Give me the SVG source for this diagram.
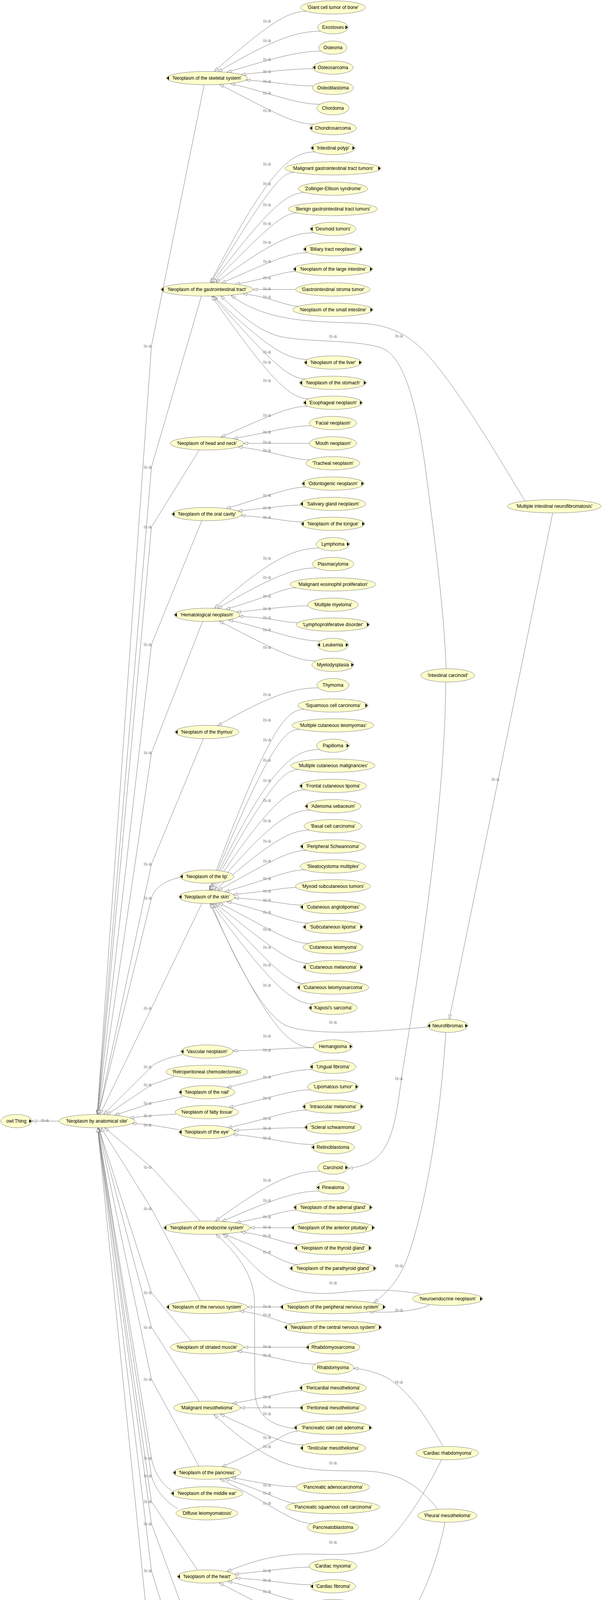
<svg xmlns="http://www.w3.org/2000/svg" width="1550" height="4708" viewBox="0 0 1550 4708">
<style>
.n ellipse{fill:#ffffcc;stroke:#808080;stroke-width:1}
.n text{font-family:"Liberation Sans",Arial,sans-serif;font-size:12px;fill:#000;text-anchor:middle}
.n path{fill:#000;stroke:none}
#edges path{fill:none;stroke:#808080;stroke-width:1;stroke-linejoin:round;marker-end:url(#arr)}
#labels text{font-family:"Liberation Sans",Arial,sans-serif;font-size:12px;fill:#808080;text-anchor:middle}
</style>
<defs>
<marker id="arr" viewBox="0 0 12 8" refX="11.5" refY="4" markerWidth="12" markerHeight="8" markerUnits="userSpaceOnUse" orient="auto"><path d="M0.5,0.5 L11.5,4 L0.5,7.5 Z" fill="#fff" stroke="#808080" stroke-width="1"/></marker>
</defs>
<rect width="1550" height="4708" fill="#fff"/>
<g id="edges">
<path d="M785 29C740 29 694 54 549 183"/>
<path d="M821 80C757 80 694 104 558 184"/>
<path d="M822 131C758 131 694 152 581 185"/>
<path d="M802 176C748 176 694 183 618 191"/>
<path d="M802 220C748 220 694 208 630 205"/>
<path d="M820 267C757 267 694 238 590 214"/>
<path d="M805 318C750 318 694 283 562 216"/>
<path d="M807 389C751 389 694 420 539 724"/>
<path d="M755 441C724 441 694 470 540 724"/>
<path d="M782 493C738 493 694 524 543 724"/>
<path d="M762 545C728 545 694 572 546 724"/>
<path d="M804 596C749 596 694 620 553 724"/>
<path d="M788 647C741 647 694 669 567 725"/>
<path d="M758 695C726 695 694 711 603 728"/>
<path d="M758 741L648 741"/>
<path d="M767 784C731 784 694 760 622 752"/>
<path d="M787 920C741 920 694 901 547 758"/>
<path d="M784 970C739 970 694 927 545 758"/>
<path d="M792 1021C743 1021 694 974 542 758"/>
<path d="M789 1040C741 1040 694 1063 566 1119"/>
<path d="M797 1090C745 1090 694 1106 597 1123"/>
<path d="M792 1135L624 1135"/>
<path d="M795 1177C745 1177 694 1153 610 1144"/>
<path d="M784 1247C739 1247 694 1268 579 1302"/>
<path d="M770 1293C732 1293 694 1300 610 1308"/>
<path d="M774 1336C734 1336 694 1324 617 1320"/>
<path d="M819 1403C756 1403 694 1429 549 1557"/>
<path d="M809 1454C752 1454 694 1478 557 1558"/>
<path d="M758 1505C726 1505 694 1526 578 1560"/>
<path d="M789 1551C742 1551 694 1558 606 1567"/>
<path d="M763 1594C729 1594 694 1581 612 1578"/>
<path d="M821 1641C758 1641 694 1612 585 1587"/>
<path d="M810 1692C752 1692 694 1657 561 1590"/>
<path d="M815 1761C755 1761 694 1778 557 1858"/>
<path d="M781 1816C738 1816 694 1843 536 2279"/>
<path d="M769 1867C732 1867 694 1894 537 2279"/>
<path d="M819 1919C757 1919 694 1946 538 2279"/>
<path d="M767 1970C730 1970 694 1998 539 2279"/>
<path d="M784 2022C739 2022 694 2049 541 2279"/>
<path d="M795 2074C745 2074 694 2101 544 2279"/>
<path d="M794 2125C744 2125 694 2153 549 2280"/>
<path d="M786 2177C740 2177 694 2204 558 2280"/>
<path d="M781 2227C738 2227 694 2249 576 2283"/>
<path d="M759 2272C727 2272 694 2281 597 2290"/>
<path d="M773 2317C734 2317 694 2304 601 2299"/>
<path d="M791 2363C743 2363 694 2335 581 2308"/>
<path d="M791 2415C743 2415 694 2379 560 2311"/>
<path d="M791 2466C743 2466 694 2425 551 2312"/>
<path d="M779 2518C737 2518 694 2470 546 2313"/>
<path d="M803 2570C749 2570 694 2522 542 2313"/>
<path d="M804 2682C749 2682 694 2652 538 2313"/>
<path d="M804 2682C749 2682 694 2688 597 2690"/>
<path d="M1095 2629C980 2640 800 2655 730 2624C665 2590 585 2420 541 2313"/>
<path d="M800 2738C747 2738 694 2757 581 2784"/>
<path d="M796 2790C745 2790 694 2811 586 2835"/>
<path d="M786 2842C740 2842 694 2863 583 2887"/>
<path d="M780 2887C737 2887 694 2888 600 2894"/>
<path d="M803 2930C748 2930 694 2913 597 2904"/>
<path d="M820 2998C757 2998 694 3021 552 3126"/>
<path d="M818 3049C756 3049 694 3073 568 3127"/>
<path d="M760 3098C727 3098 694 3115 604 3130"/>
<path d="M746 3143L641 3143"/>
<path d="M769 3186C732 3186 694 3163 617 3154"/>
<path d="M764 3237C729 3237 694 3205 572 3159"/>
<path d="M755 3657C700 3650 655 3630 653 3560L652 3330C650 3260 600 3200 553 3160"/>
<path d="M1075 3312C1000 3300 950 3300 860 3310C760 3318 700 3290 650 3240C610 3200 590 3175 571 3159"/>
<path d="M718 3346L634 3346"/>
<path d="M747 3389C721 3389 694 3366 613 3356"/>
<path d="M784 3449L624 3449"/>
<path d="M808 3492C751 3492 694 3469 608 3459"/>
<path d="M774 3560C734 3560 694 3576 595 3593"/>
<path d="M768 3604L615 3604"/>
<path d="M778 3699C736 3699 694 3680 564 3620"/>
<path d="M1123 3866C1080 3810 1030 3770 940 3766C870 3764 790 3770 720 3742C650 3712 590 3660 548 3621"/>
<path d="M763 3664C729 3664 694 3703 568 3755"/>
<path d="M759 3806C727 3806 694 3802 592 3782"/>
<path d="M757 3848C726 3848 694 3822 576 3785"/>
<path d="M800 3900C747 3900 694 3848 563 3786"/>
<path d="M1131 3737C1090 3820 1040 3900 990 3948C950 3985 860 3980 790 3978C700 3978 640 4000 581 4023"/>
<path d="M793 4012C744 4012 694 4021 600 4030"/>
<path d="M797 4057C746 4057 694 4045 604 4040"/>
<path d="M794 4102C744 4102 694 4074 583 4048"/>
<path d="M803 4155C749 4155 694 4119 561 4052"/>
<path d="M779 4223C737 4223 694 4239 603 4255"/>
<path d="M776 4268L641 4268"/>
<path d="M772 4310C733 4310 694 4287 619 4278"/>
<path d="M791 4361C742 4361 694 4329 572 4284"/>
<path d="M780 4423L607 4423"/>
<path d="M799 4464C747 4464 694 4442 598 4431"/>
<path d="M749 4532C721 4532 694 4549 604 4565"/>
<path d="M736 4578L644 4578"/>
<path d="M799 4619C747 4619 694 4597 620 4588"/>
<path d="M791 4670C743 4670 694 4639 572 4594"/>
<path d="M1345 1283C1260 1140 1180 1010 1110 925C1060 865 1010 833 930 828C820 822 690 830 592 756"/>
<path d="M1143 1712C1138 1560 1110 1350 1090 1200C1070 1050 1040 930 990 897C940 868 800 878 720 862C660 848 610 800 565 757"/>
<path d="M1142 1746C1140 2050 1080 2450 1030 2750C1010 2900 1000 2980 892 2991"/>
<path d="M1142 2643C1130 2850 1090 3100 1040 3230C1020 3280 990 3310 958 3335"/>
<path d="M1100 3341C1070 3355 1010 3362 946 3358"/>
<path d="M1135 3703C1100 3640 1050 3560 990 3526C960 3512 935 3505 906 3503"/>
<path d="M1140 3897C1120 4000 1080 4100 1040 4150C1000 4195 970 4208 933 4214"/>
<path d="M1416 1313L1151 2609"/>
<path d="M523 217L388 886L249 2853"/>
<path d="M516 758L388 1196L249 2853"/>
<path d="M511 1151L388 1349L250 2853"/>
<path d="M517 1333L388 1650L250 2853"/>
<path d="M519 1591L388 1927L251 2853"/>
<path d="M521 1891L388 2212L252 2853"/>
<path d="M461 2246C420 2255 395 2275 388 2299L252 2853"/>
<path d="M517 2313L388 2581L256 2853"/>
<path d="M466 2700C430 2708 400 2718 388 2731L265 2853"/>
<path d="M447 2756L388 2777L273 2854"/>
<path d="M469 2807L388 2824L294 2855"/>
<path d="M451 2852L388 2856L332 2862"/>
<path d="M458 2892L388 2880L338 2876"/>
<path d="M513 3126L388 2988L268 2887"/>
<path d="M513 3329L388 3094L259 2887"/>
<path d="M491 3434L388 3309L253 2887"/>
<path d="M510 3587L388 3398L253 2887"/>
<path d="M510 3754L388 3531L252 2887"/>
<path d="M440 3816C415 3800 395 3770 388 3733L251 2887"/>
<path d="M455 3862C425 3845 398 3815 388 3778L251 2887"/>
<path d="M506 4019L388 3844L250 2887"/>
<path d="M517 4251L388 3901L250 2887"/>
<path d="M506 4406L388 4021L250 2887"/>
<path d="M506 4561L388 4255L250 2887"/>
<path d="M151 2870L82 2870"/>
</g>
<g id="labels">
<text x="684" y="58">is-a</text><text x="684" y="108">is-a</text><text x="684" y="156">is-a</text><text x="684" y="187">is-a</text><text x="684" y="212">is-a</text><text x="684" y="242">is-a</text><text x="684" y="287">is-a</text>
<text x="684" y="424">is-a</text><text x="684" y="474">is-a</text><text x="684" y="528">is-a</text><text x="684" y="576">is-a</text><text x="684" y="624">is-a</text><text x="684" y="673">is-a</text><text x="684" y="715">is-a</text><text x="684" y="743">is-a</text><text x="684" y="764">is-a</text><text x="684" y="905">is-a</text><text x="684" y="931">is-a</text><text x="684" y="978">is-a</text>
<text x="684" y="1067">is-a</text><text x="684" y="1110">is-a</text><text x="684" y="1136">is-a</text><text x="684" y="1157">is-a</text>
<text x="684" y="1272">is-a</text><text x="684" y="1304">is-a</text><text x="684" y="1328">is-a</text>
<text x="684" y="1433">is-a</text><text x="684" y="1482">is-a</text><text x="684" y="1530">is-a</text><text x="684" y="1562">is-a</text><text x="684" y="1585">is-a</text><text x="684" y="1616">is-a</text><text x="684" y="1661">is-a</text>
<text x="684" y="1782">is-a</text>
<text x="684" y="1847">is-a</text><text x="684" y="1898">is-a</text><text x="684" y="1950">is-a</text><text x="684" y="2002">is-a</text><text x="684" y="2053">is-a</text><text x="684" y="2105">is-a</text><text x="684" y="2157">is-a</text><text x="684" y="2208">is-a</text><text x="684" y="2253">is-a</text><text x="684" y="2285">is-a</text><text x="684" y="2308">is-a</text><text x="684" y="2339">is-a</text><text x="684" y="2383">is-a</text><text x="684" y="2429">is-a</text><text x="684" y="2474">is-a</text><text x="684" y="2526">is-a</text><text x="684" y="2656">is-a</text><text x="684" y="2692">is-a</text>
<text x="684" y="2761">is-a</text><text x="684" y="2815">is-a</text><text x="684" y="2867">is-a</text><text x="684" y="2892">is-a</text><text x="684" y="2917">is-a</text><text x="684" y="3025">is-a</text><text x="684" y="3077">is-a</text><text x="684" y="3119">is-a</text><text x="684" y="3145">is-a</text><text x="684" y="3167">is-a</text><text x="684" y="3209">is-a</text>
<text x="684" y="3348">is-a</text><text x="684" y="3370">is-a</text><text x="684" y="3451">is-a</text><text x="684" y="3473">is-a</text><text x="684" y="3580">is-a</text><text x="684" y="3605">is-a</text><text x="684" y="3623">is-a</text><text x="684" y="3684">is-a</text><text x="684" y="3707">is-a</text>
<text x="684" y="3806">is-a</text><text x="684" y="3826">is-a</text><text x="684" y="3852">is-a</text>
<text x="684" y="4025">is-a</text><text x="684" y="4049">is-a</text><text x="684" y="4078">is-a</text><text x="684" y="4123">is-a</text>
<text x="684" y="4243">is-a</text><text x="684" y="4270">is-a</text><text x="684" y="4291">is-a</text><text x="684" y="4333">is-a</text>
<text x="684" y="4424">is-a</text><text x="684" y="4446">is-a</text>
<text x="684" y="4553">is-a</text><text x="684" y="4579">is-a</text><text x="684" y="4601">is-a</text><text x="684" y="4643">is-a</text>
<text x="853" y="865">is-a</text><text x="1022" y="864">is-a</text><text x="853" y="2621">is-a</text><text x="1022" y="2765">is-a</text><text x="1022" y="3244">is-a</text><text x="1022" y="3358">is-a</text><text x="853" y="3288">is-a</text><text x="1022" y="3542">is-a</text><text x="853" y="3749">is-a</text><text x="853" y="3952">is-a</text><text x="1022" y="4154">is-a</text><text x="1269" y="1999">is-a</text>
<text x="378" y="890">is-a</text><text x="378" y="1200">is-a</text><text x="378" y="1353">is-a</text><text x="378" y="1654">is-a</text><text x="378" y="1931">is-a</text><text x="378" y="2216">is-a</text><text x="378" y="2303">is-a</text><text x="378" y="2585">is-a</text><text x="378" y="2735">is-a</text><text x="378" y="2781">is-a</text><text x="378" y="2828">is-a</text><text x="378" y="2860">is-a</text>
<text x="378" y="2884">is-a</text><text x="378" y="2992">is-a</text><text x="378" y="3098">is-a</text><text x="378" y="3313">is-a</text><text x="378" y="3402">is-a</text><text x="378" y="3535">is-a</text><text x="378" y="3737">is-a</text><text x="378" y="3782">is-a</text><text x="378" y="3848">is-a</text><text x="378" y="3905">is-a</text><text x="378" y="4025">is-a</text><text x="378" y="4259">is-a</text>
<text x="115" y="2872">is-a</text>
</g>
<g id="nodes">
<g id="thing" class="n"><ellipse cx="42" cy="2870" rx="40" ry="17"/><text x="42" y="2874">owl:Thing</text><path d="M81 2870l-6-5v10z"/></g>
<g id="site" class="n"><ellipse cx="248" cy="2870" rx="97" ry="17"/><text x="248" y="2874">'Neoplasm by anatomical site'</text></g>
<g id="skel" class="n"><ellipse cx="530" cy="200" rx="104" ry="17"/><text x="530" y="204">'Neoplasm of the skeletal system'</text><path d="M427 200l6-5v10z"/></g>
<g id="gi" class="n"><ellipse cx="530" cy="741" rx="118" ry="17"/><text x="530" y="745">'Neoplasm of the gastrointestinal tract'</text><path d="M413 741l6-5v10z"/></g>
<g id="hn" class="n"><ellipse cx="530" cy="1135" rx="94" ry="17"/><text x="530" y="1139">'Neoplasm of head and neck'</text></g>
<g id="oral" class="n"><ellipse cx="530" cy="1316" rx="90" ry="17"/><text x="530" y="1320">'Neoplasm of the oral cavity'</text><path d="M441 1316l6-5v10z"/></g>
<g id="hem" class="n"><ellipse cx="530" cy="1574" rx="84" ry="17"/><text x="530" y="1578">'Hematological neoplasm'</text><path d="M447 1574l6-5v10z"/></g>
<g id="thymus" class="n"><ellipse cx="530" cy="1874" rx="82" ry="17"/><text x="530" y="1878">'Neoplasm of the thymus'</text><path d="M449 1874l6-5v10z"/></g>
<g id="lip" class="n"><ellipse cx="530" cy="2244" rx="69" ry="17"/><text x="530" y="2248">'Neoplasm of the lip'</text><path d="M462 2244l6-5v10z"/></g>
<g id="skin" class="n"><ellipse cx="530" cy="2296" rx="72" ry="17"/><text x="530" y="2300">'Neoplasm of the skin'</text><path d="M459 2296l6-5v10z"/></g>
<g id="vascular" class="n"><ellipse cx="530" cy="2692" rx="67" ry="17"/><text x="530" y="2696">'Vascular neoplasm'</text><path d="M464 2692l6-5v10z"/></g>
<g id="retro" class="n"><ellipse cx="530" cy="2744" rx="105" ry="17"/><text x="530" y="2748">'Retroperitoneal chemodectomas'</text></g>
<g id="nail" class="n"><ellipse cx="530" cy="2796" rx="72" ry="17"/><text x="530" y="2800">'Neoplasm of the nail'</text><path d="M459 2796l6-5v10z"/></g>
<g id="fatty" class="n"><ellipse cx="530" cy="2847" rx="81" ry="17"/><text x="530" y="2851">'Neoplasm of fatty tissue'</text></g>
<g id="eye" class="n"><ellipse cx="530" cy="2898" rx="72" ry="17"/><text x="530" y="2902">'Neoplasm of the eye'</text><path d="M459 2898l6-5v10z"/></g>
<g id="endo" class="n"><ellipse cx="530" cy="3143" rx="111" ry="17"/><text x="530" y="3147">'Neoplasm of the endocrine system'</text><path d="M420 3143l6-5v10z"/></g>
<g id="nervous" class="n"><ellipse cx="530" cy="3346" rx="104" ry="17"/><text x="530" y="3350">'Neoplasm of the nervous system'</text><path d="M427 3346l6-5v10z"/></g>
<g id="striated" class="n"><ellipse cx="530" cy="3449" rx="94" ry="17"/><text x="530" y="3453">'Neoplasm of striated muscle'</text></g>
<g id="meso" class="n"><ellipse cx="530" cy="3604" rx="85" ry="17"/><text x="530" y="3608">'Malignant mesothelioma'</text></g>
<g id="pancreas" class="n"><ellipse cx="530" cy="3770" rx="87" ry="17"/><text x="530" y="3774">'Neoplasm of the pancreas'</text><path d="M444 3770l6-5v10z"/></g>
<g id="ear" class="n"><ellipse cx="530" cy="3823" rx="92" ry="17"/><text x="530" y="3827">'Neoplasm of the middle ear'</text><path d="M439 3823l6-5v10z"/></g>
<g id="diffuse" class="n"><ellipse cx="530" cy="3874" rx="79" ry="17"/><text x="530" y="3878">'Diffuse leiomyomatosis'</text></g>
<g id="heart" class="n"><ellipse cx="530" cy="4036" rx="76" ry="17"/><text x="530" y="4040">'Neoplasm of the heart'</text><path d="M455 4036l6-5v10z"/></g>
<g id="resp" class="n"><ellipse cx="530" cy="4268" rx="111" ry="17"/><text x="530" y="4272">'Neoplasm of the respiratory system'</text></g>
<g id="breast" class="n"><ellipse cx="530" cy="4423" rx="77" ry="17"/><text x="530" y="4427">'Neoplasm of the breast'</text><path d="M454 4423l6-5v10z"/></g>
<g id="gu" class="n"><ellipse cx="530" cy="4578" rx="114" ry="17"/><text x="530" y="4582">'Neoplasm of the genitourinary tract'</text><path d="M417 4578l6-5v10z"/></g>

<g id="giant" class="n"><ellipse cx="853" cy="19" rx="83" ry="17"/><text x="853" y="23">'Giant cell tumor of bone'</text></g>
<g id="exostoses" class="n"><ellipse cx="853" cy="70" rx="39" ry="17"/><text x="853" y="74">Exostoses</text><path d="M891 70l-6-5v10z"/></g>
<g id="osteoma" class="n"><ellipse cx="853" cy="122" rx="36" ry="17"/><text x="853" y="126">Osteoma</text></g>
<g id="osteosarcoma" class="n"><ellipse cx="853" cy="173" rx="52" ry="17"/><text x="853" y="177">Osteosarcoma</text><path d="M802 173l6-5v10z"/></g>
<g id="osteoblastoma" class="n"><ellipse cx="853" cy="225" rx="53" ry="17"/><text x="853" y="229">Osteoblastoma</text></g>
<g id="chordoma" class="n"><ellipse cx="853" cy="277" rx="41" ry="17"/><text x="853" y="281">Chordoma</text></g>
<g id="chondrosarcoma" class="n"><ellipse cx="853" cy="328" rx="60" ry="17"/><text x="853" y="332">Chondrosarcoma</text><path d="M794 328l6-5v10z"/></g>
<g id="polyp" class="n"><ellipse cx="853" cy="379" rx="57" ry="17"/><text x="853" y="383">'Intestinal polyp'</text><path d="M797 379l6-5v10z"/><path d="M909 379l-6-5v10z"/></g>
<g id="malgi" class="n"><ellipse cx="853" cy="431" rx="123" ry="17"/><text x="853" y="435">'Malignant gastrointestinal tract tumors'</text><path d="M975 431l-6-5v10z"/></g>
<g id="zollinger" class="n"><ellipse cx="853" cy="483" rx="89" ry="17"/><text x="853" y="487">'Zollinger-Ellison syndrome'</text></g>
<g id="benigngi" class="n"><ellipse cx="853" cy="535" rx="114" ry="17"/><text x="853" y="539">'Benign gastrointestinal tract tumors'</text></g>
<g id="desmoid" class="n"><ellipse cx="853" cy="586" rx="59" ry="17"/><text x="853" y="590">'Desmoid tumors'</text><path d="M795 586l6-5v10z"/></g>
<g id="biliary" class="n"><ellipse cx="853" cy="638" rx="76" ry="17"/><text x="853" y="642">'Biliary tract neoplasm'</text><path d="M778 638l6-5v10z"/><path d="M928 638l-6-5v10z"/></g>
<g id="large" class="n"><ellipse cx="853" cy="689" rx="102" ry="17"/><text x="853" y="693">'Neoplasm of the large intestine'</text><path d="M752 689l6-5v10z"/><path d="M954 689l-6-5v10z"/></g>
<g id="gist" class="n"><ellipse cx="853" cy="741" rx="95" ry="17"/><text x="853" y="745">'Gastrointestinal stroma tumor'</text></g>
<g id="small" class="n"><ellipse cx="853" cy="793" rx="103" ry="17"/><text x="853" y="797">'Neoplasm of the small intestine'</text><path d="M955 793l-6-5v10z"/></g>
<g id="liver" class="n"><ellipse cx="853" cy="928" rx="74" ry="17"/><text x="853" y="932">'Neoplasm of the liver'</text><path d="M780 928l6-5v10z"/><path d="M926 928l-6-5v10z"/></g>
<g id="stomach" class="n"><ellipse cx="853" cy="980" rx="86" ry="17"/><text x="853" y="984">'Neoplasm of the stomach'</text><path d="M768 980l6-5v10z"/><path d="M938 980l-6-5v10z"/></g>
<g id="esophageal" class="n"><ellipse cx="853" cy="1031" rx="76" ry="17"/><text x="853" y="1035">'Esophageal neoplasm'</text><path d="M778 1031l6-5v10z"/><path d="M928 1031l-6-5v10z"/></g>
<g id="facial" class="n"><ellipse cx="853" cy="1083" rx="61" ry="17"/><text x="853" y="1087">'Facial neoplasm'</text></g>
<g id="mouth" class="n"><ellipse cx="853" cy="1135" rx="61" ry="17"/><text x="853" y="1139">'Mouth neoplasm'</text></g>
<g id="tracheal" class="n"><ellipse cx="853" cy="1186" rx="69" ry="17"/><text x="853" y="1190">'Tracheal neoplasm'</text></g>
<g id="odontogenic" class="n"><ellipse cx="853" cy="1238" rx="80" ry="17"/><text x="853" y="1242">'Odontogenic neoplasm'</text><path d="M774 1238l6-5v10z"/><path d="M932 1238l-6-5v10z"/></g>
<g id="salivary" class="n"><ellipse cx="853" cy="1290" rx="84" ry="17"/><text x="853" y="1294">'Salivary gland neoplasm'</text><path d="M770 1290l6-5v10z"/></g>
<g id="tongue" class="n"><ellipse cx="853" cy="1341" rx="82" ry="17"/><text x="853" y="1345">'Neoplasm of the tongue'</text><path d="M772 1341l6-5v10z"/><path d="M934 1341l-6-5v10z"/></g>
<g id="lymphoma" class="n"><ellipse cx="853" cy="1393" rx="43" ry="17"/><text x="853" y="1397">Lymphoma</text><path d="M895 1393l-6-5v10z"/></g>
<g id="plasmacytoma" class="n"><ellipse cx="853" cy="1444" rx="53" ry="17"/><text x="853" y="1448">Plasmacytoma</text></g>
<g id="eosinophil" class="n"><ellipse cx="853" cy="1496" rx="110" ry="17"/><text x="853" y="1500">'Malignant eosinophil proliferation'</text></g>
<g id="myeloma" class="n"><ellipse cx="853" cy="1548" rx="65" ry="17"/><text x="853" y="1552">'Multiple myeloma'</text></g>
<g id="lymphoprolif" class="n"><ellipse cx="853" cy="1599" rx="94" ry="17"/><text x="853" y="1603">'Lymphoproliferative disorder'</text><path d="M946 1599l-6-5v10z"/></g>
<g id="leukemia" class="n"><ellipse cx="853" cy="1651" rx="40" ry="17"/><text x="853" y="1655">Leukemia</text><path d="M814 1651l6-5v10z"/><path d="M892 1651l-6-5v10z"/></g>
<g id="myelodysplasia" class="n"><ellipse cx="853" cy="1702" rx="54" ry="17"/><text x="853" y="1706">Myelodysplasia</text><path d="M906 1702l-6-5v10z"/></g>
<g id="thymoma" class="n"><ellipse cx="853" cy="1754" rx="41" ry="17"/><text x="853" y="1758">Thymoma</text></g>
<g id="squamous" class="n"><ellipse cx="853" cy="1806" rx="90" ry="17"/><text x="853" y="1810">'Squamous cell carcinoma'</text><path d="M942 1806l-6-5v10z"/></g>
<g id="mcl" class="n"><ellipse cx="853" cy="1857" rx="105" ry="17"/><text x="853" y="1861">'Multiple cutaneous leiomyomas'</text></g>
<g id="papilloma" class="n"><ellipse cx="853" cy="1909" rx="42" ry="17"/><text x="853" y="1913">Papilloma</text><path d="M894 1909l-6-5v10z"/></g>
<g id="mcm" class="n"><ellipse cx="853" cy="1960" rx="108" ry="17"/><text x="853" y="1964">'Multiple cutaneous malignancies'</text></g>
<g id="frontal" class="n"><ellipse cx="853" cy="2012" rx="86" ry="17"/><text x="853" y="2016">'Frontal cutaneous lipoma'</text><path d="M768 2012l6-5v10z"/></g>
<g id="adenoma" class="n"><ellipse cx="853" cy="2064" rx="72" ry="17"/><text x="853" y="2068">'Adenoma sebaceum'</text><path d="M782 2064l6-5v10z"/></g>
<g id="basal" class="n"><ellipse cx="853" cy="2115" rx="74" ry="17"/><text x="853" y="2119">'Basal cell carcinoma'</text></g>
<g id="schwannoma" class="n"><ellipse cx="853" cy="2167" rx="84" ry="17"/><text x="853" y="2171">'Peripheral Schwannoma'</text><path d="M770 2167l6-5v10z"/></g>
<g id="steatocystoma" class="n"><ellipse cx="853" cy="2218" rx="84" ry="17"/><text x="853" y="2222">'Steatocystoma multiplex'</text></g>
<g id="myxoid" class="n"><ellipse cx="853" cy="2269" rx="96" ry="17"/><text x="853" y="2273">'Myxoid subcutaneous tumors'</text></g>
<g id="angiolipomas" class="n"><ellipse cx="853" cy="2322" rx="84" ry="17"/><text x="853" y="2326">'Cutaneous angiolipomas'</text><path d="M770 2322l6-5v10z"/></g>
<g id="sublipoma" class="n"><ellipse cx="853" cy="2373" rx="77" ry="17"/><text x="853" y="2377">'Subcutaneous lipoma'</text><path d="M777 2373l6-5v10z"/><path d="M929 2373l-6-5v10z"/></g>
<g id="cutleio" class="n"><ellipse cx="853" cy="2425" rx="77" ry="17"/><text x="853" y="2429">'Cutaneous leiomyoma'</text></g>
<g id="melanoma" class="n"><ellipse cx="853" cy="2476" rx="77" ry="17"/><text x="853" y="2480">'Cutaneous melanoma'</text><path d="M777 2476l6-5v10z"/><path d="M929 2476l-6-5v10z"/></g>
<g id="leiosarcoma" class="n"><ellipse cx="853" cy="2528" rx="92" ry="17"/><text x="853" y="2532">'Cutaneous leiomyosarcoma'</text><path d="M762 2528l6-5v10z"/></g>
<g id="kaposi" class="n"><ellipse cx="853" cy="2580" rx="62" ry="17"/><text x="853" y="2584">'Kaposi's sarcoma'</text><path d="M792 2580l6-5v10z"/></g>
<g id="hemangioma" class="n"><ellipse cx="853" cy="2679" rx="50" ry="17"/><text x="853" y="2683">Hemangioma</text><path d="M902 2679l-6-5v10z"/></g>
<g id="ungual" class="n"><ellipse cx="853" cy="2731" rx="59" ry="17"/><text x="853" y="2735">'Ungual fibroma'</text><path d="M795 2731l6-5v10z"/></g>
<g id="lipomatous" class="n"><ellipse cx="853" cy="2782" rx="65" ry="17"/><text x="853" y="2786">'Lipomatous tumor'</text><path d="M917 2782l-6-5v10z"/></g>
<g id="intraocular" class="n"><ellipse cx="853" cy="2833" rx="78" ry="17"/><text x="853" y="2837">'Intraocular melanoma'</text><path d="M776 2833l6-5v10z"/><path d="M930 2833l-6-5v10z"/></g>
<g id="scleral" class="n"><ellipse cx="853" cy="2886" rx="73" ry="17"/><text x="853" y="2890">'Scleral schwannoma'</text><path d="M781 2886l6-5v10z"/></g>
<g id="retinoblastoma" class="n"><ellipse cx="853" cy="2937" rx="55" ry="17"/><text x="853" y="2941">Retinoblastoma</text><path d="M799 2937l6-5v10z"/></g>
<g id="carcinoid" class="n"><ellipse cx="853" cy="2989" rx="39" ry="17"/><text x="853" y="2993">Carcinoid</text><path d="M891 2989l-6-5v10z"/></g>
<g id="pinealoma" class="n"><ellipse cx="853" cy="3040" rx="42" ry="17"/><text x="853" y="3044">Pinealoma</text><path d="M812 3040l6-5v10z"/></g>
<g id="adrenal" class="n"><ellipse cx="853" cy="3091" rx="101" ry="17"/><text x="853" y="3095">'Neoplasm of the adrenal gland'</text><path d="M753 3091l6-5v10z"/><path d="M953 3091l-6-5v10z"/></g>
<g id="pituitary" class="n"><ellipse cx="853" cy="3143" rx="107" ry="17"/><text x="853" y="3147">'Neoplasm of the anterior pituitary'</text><path d="M747 3143l6-5v10z"/><path d="M959 3143l-6-5v10z"/></g>
<g id="thyroid" class="n"><ellipse cx="853" cy="3195" rx="99" ry="17"/><text x="853" y="3199">'Neoplasm of the thyroid gland'</text><path d="M755 3195l6-5v10z"/><path d="M951 3195l-6-5v10z"/></g>
<g id="parathyroid" class="n"><ellipse cx="853" cy="3247" rx="111" ry="17"/><text x="853" y="3251">'Neoplasm of the parathyroid gland'</text><path d="M743 3247l6-5v10z"/><path d="M963 3247l-6-5v10z"/></g>
<g id="pns" class="n"><ellipse cx="853" cy="3346" rx="135" ry="17"/><text x="853" y="3350">'Neoplasm of the peripheral nervous system'</text><path d="M719 3346l6-5v10z"/><path d="M987 3346l-6-5v10z"/></g>
<g id="cns" class="n"><ellipse cx="853" cy="3398" rx="125" ry="17"/><text x="853" y="3402">'Neoplasm of the central nervous system'</text><path d="M729 3398l6-5v10z"/><path d="M977 3398l-6-5v10z"/></g>
<g id="rhabdosarcoma" class="n"><ellipse cx="853" cy="3449" rx="69" ry="17"/><text x="853" y="3453">Rhabdomyosarcoma</text><path d="M785 3449l6-5v10z"/></g>
<g id="rhabdomyoma" class="n"><ellipse cx="853" cy="3501" rx="53" ry="17"/><text x="853" y="3505">Rhabdomyoma</text></g>
<g id="pericardial" class="n"><ellipse cx="853" cy="3553" rx="86" ry="17"/><text x="853" y="3557">'Pericardial mesothelioma'</text><path d="M768 3553l6-5v10z"/></g>
<g id="peritoneal" class="n"><ellipse cx="853" cy="3604" rx="85" ry="17"/><text x="853" y="3608">'Peritoneal mesothelioma'</text><path d="M769 3604l6-5v10z"/></g>
<g id="islet" class="n"><ellipse cx="853" cy="3655" rx="100" ry="17"/><text x="853" y="3659">'Pancreatic islet cell adenoma'</text><path d="M754 3655l6-5v10z"/><path d="M952 3655l-6-5v10z"/></g>
<g id="testicular" class="n"><ellipse cx="853" cy="3707" rx="84" ry="17"/><text x="853" y="3711">'Testicular mesothelioma'</text><path d="M770 3707l6-5v10z"/></g>
<g id="padeno" class="n"><ellipse cx="853" cy="3807" rx="94" ry="17"/><text x="853" y="3811">'Pancreatic adenocarcinoma'</text></g>
<g id="psquamous" class="n"><ellipse cx="853" cy="3858" rx="120" ry="17"/><text x="853" y="3862">'Pancreatic squamous cell carcinoma'</text></g>
<g id="pancreatoblastoma" class="n"><ellipse cx="853" cy="3910" rx="66" ry="17"/><text x="853" y="3914">Pancreatoblastoma</text></g>
<g id="myxoma" class="n"><ellipse cx="853" cy="4009" rx="61" ry="17"/><text x="853" y="4013">'Cardiac myxoma'</text></g>
<g id="cfibroma" class="n"><ellipse cx="853" cy="4061" rx="58" ry="17"/><text x="853" y="4065">'Cardiac fibroma'</text><path d="M796 4061l6-5v10z"/></g>
<g id="chemangioma" class="n"><ellipse cx="853" cy="4112" rx="74" ry="17"/><text x="853" y="4116">'Cardiac hemangioma'</text></g>
<g id="teratoma" class="n"><ellipse cx="853" cy="4165" rx="62" ry="17"/><text x="853" y="4169">'Cardiac teratoma'</text></g>
<g id="pleura" class="n"><ellipse cx="853" cy="4216" rx="80" ry="17"/><text x="853" y="4220">'Neoplasia of the pleura'</text><path d="M774 4216l6-5v10z"/><path d="M932 4216l-6-5v10z"/></g>
<g id="lungs" class="n"><ellipse cx="853" cy="4268" rx="77" ry="17"/><text x="853" y="4272">'Neoplasm of the lungs'</text><path d="M777 4268l6-5v10z"/><path d="M929 4268l-6-5v10z"/></g>
<g id="nasopharynx" class="n"><ellipse cx="853" cy="4319" rx="96" ry="17"/><text x="853" y="4323">'Neoplasia of the nasopharynx'</text><path d="M758 4319l6-5v10z"/><path d="M948 4319l-6-5v10z"/></g>
<g id="larynx" class="n"><ellipse cx="853" cy="4371" rx="78" ry="17"/><text x="853" y="4375">'Neoplasm of the larynx'</text><path d="M776 4371l6-5v10z"/><path d="M930 4371l-6-5v10z"/></g>
<g id="bfibroma" class="n"><ellipse cx="853" cy="4423" rx="73" ry="17"/><text x="853" y="4427">'Fibroma of the breast'</text><path d="M781 4423l6-5v10z"/></g>
<g id="bcarcinoma" class="n"><ellipse cx="853" cy="4473" rx="63" ry="17"/><text x="853" y="4477">'Breast carcinoma'</text><path d="M915 4473l-6-5v10z"/></g>
<g id="malgu" class="n"><ellipse cx="853" cy="4525" rx="114" ry="17"/><text x="853" y="4529">'Malignant genitourinary tract tumor'</text></g>
<g id="benigngu" class="n"><ellipse cx="853" cy="4578" rx="117" ry="17"/><text x="853" y="4582">'Benign genitourinary tract neoplasm'</text></g>
<g id="genital" class="n"><ellipse cx="853" cy="4628" rx="63" ry="17"/><text x="853" y="4632">'Genital neoplasm'</text><path d="M791 4628l6-5v10z"/><path d="M915 4628l-6-5v10z"/></g>
<g id="urinary" class="n"><ellipse cx="853" cy="4680" rx="77" ry="17"/><text x="853" y="4684">'Urinary tract neoplasm'</text><path d="M929 4680l-6-5v10z"/></g>

<g id="intcarcinoid" class="n"><ellipse cx="1147" cy="1729" rx="69" ry="17"/><text x="1147" y="1733">'Intestinal carcinoid'</text></g>
<g id="neurofibromas" class="n"><ellipse cx="1147" cy="2626" rx="52" ry="17"/><text x="1147" y="2630">Neurofibromas</text><path d="M1096 2626l6-5v10z"/><path d="M1198 2626l-6-5v10z"/></g>
<g id="neuroendocrine" class="n"><ellipse cx="1147" cy="3325" rx="90" ry="17"/><text x="1147" y="3329">'Neuroendocrine neoplasm'</text><path d="M1236 3325l-6-5v10z"/></g>
<g id="cardrhabdo" class="n"><ellipse cx="1146" cy="3720" rx="80" ry="17"/><text x="1146" y="3724">'Cardiac rhabdomyoma'</text></g>
<g id="pleuralmeso" class="n"><ellipse cx="1146" cy="3880" rx="76" ry="17"/><text x="1146" y="3884">'Pleural mesothelioma'</text></g>
<g id="min" class="n"><ellipse cx="1420" cy="1296" rx="120" ry="17"/><text x="1420" y="1300">'Multiple intestinal neurofibromatosis'</text></g>
</g>
</svg>
